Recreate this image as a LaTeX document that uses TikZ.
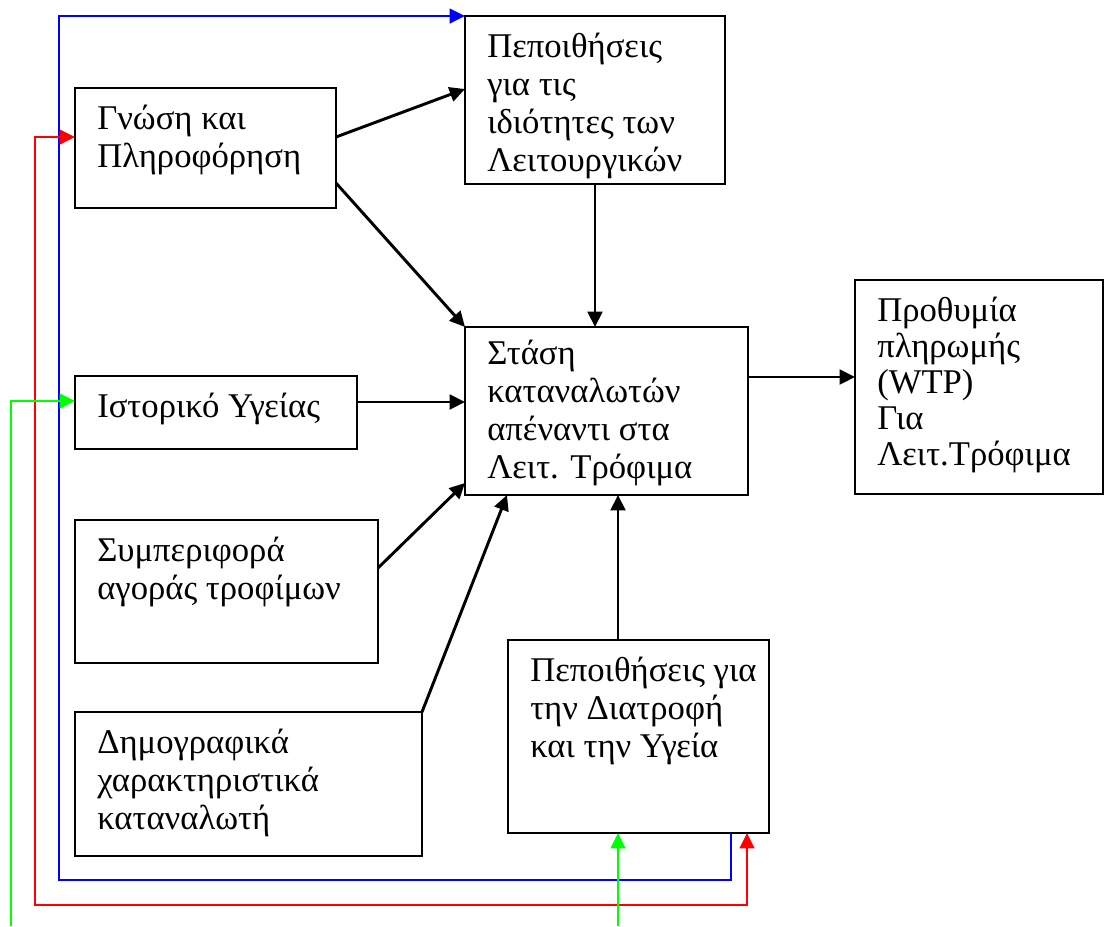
\documentclass[tikz,border=0pt]{standalone}
\usepackage{fontspec}
\setmainfont{Liberation Serif}
\usetikzlibrary{arrows.meta}
\definecolor{gline}{RGB}{0,255,0}
\definecolor{bline}{RGB}{0,0,255}
\definecolor{rline}{RGB}{255,0,0}
\begin{document}
\begin{tikzpicture}[x=0.75pt,y=-0.75pt,
  box/.style={draw=black, line width=1.7pt, rectangle, inner sep=0pt, outer sep=0pt, anchor=north west},
  txt/.style={anchor=north west, inner sep=0pt, align=left, xshift=16.5pt, yshift=-12.5pt,
    font=\fontsize{26}{28.5}\selectfont},
  conn/.style={line width=2.2pt, -{Triangle[length=11.5pt,width=11pt]}},
  col/.style={line width=1.8pt, -{Triangle[length=11.5pt,width=11pt]}},
]
\useasboundingbox (0,0) rectangle (1104,926);

\node[box, minimum width={261*0.75pt}, minimum height={120*0.75pt},
  label={[txt]north west:{Γνώση και\\Πληροφόρηση}}] (gn) at (75,88) {};
\node[box, minimum width={260*0.75pt}, minimum height={168*0.75pt},
  label={[txt]north west:{Πεποιθήσεις\\για τις\\ιδιότητες των\\Λειτουργικών}}] (pt) at (465,16) {};
\node[box, minimum width={283*0.75pt}, minimum height={168*0.75pt},
  label={[txt, yshift=3pt]north west:{Στάση\\καταναλωτών\\απέναντι στα\\Λειτ. Τρόφιμα}}] (st) at (465,327) {};
\node[box, minimum width={248*0.75pt}, minimum height={214*0.75pt},
  label={[txt, font=\fontsize{26}{27}\selectfont]north west:{Προθυμία\\πληρωμής\\(WTP)\\Για\\Λειτ.Τρόφιμα}}] (wtp) at (855,280) {};
\node[box, minimum width={282*0.75pt}, minimum height={73*0.75pt},
  label={[txt]north west:{Ιστορικό Υγείας}}] (ist) at (75,376) {};
\node[box, minimum width={303*0.75pt}, minimum height={143*0.75pt},
  label={[txt]north west:{Συμπεριφορά\\αγοράς τροφίμων}}] (sym) at (75,520) {};
\node[box, minimum width={347*0.75pt}, minimum height={144*0.75pt},
  label={[txt]north west:{Δημογραφικά\\χαρακτηριστικά\\καταναλωτή}}] (dem) at (75,712) {};
\node[box, minimum width={261*0.75pt}, minimum height={193*0.75pt},
  label={[txt]north west:{Πεποιθήσεις για\\την Διατροφή\\και την Υγεία}}] (dt) at (508,640) {};

% black connectors
\draw[conn] (gn.east |- 0,137) -- (pt.west |- 0,89);
\draw[conn] (gn.east |- 0,183) -- (st.north west);
\draw[conn] (ist.east |- 0,402) -- (st.west |- 0,402);
\draw[conn] (sym.east |- 0,568) -- (st.west |- 0,483);
\draw[conn] (dem.north east) -- (st.south -| 507,0);
\draw[conn] (pt.south) -- (st.north -| pt.south);
\draw[conn] (dt.north -| 618,0) -- (st.south -| 618,0);
\draw[conn] (st.east |- 0,377) -- (wtp.west |- 0,377);

% coloured feedback lines
\draw[col, bline] (dt.south -| 731,0) -- (731,880) -- (59,880) -- (59,16) -- (pt.north west);
\draw[col, rline, {Triangle[length=11.5pt,width=11pt]}-{Triangle[length=11.5pt,width=11pt]}]
  (gn.west |- 0,137) -- (35,137) -- (35,905) -- (747,905) -- (dt.south -| 747,0);
\coordinate (g1) at (11,926);
\coordinate (g2) at (618,926);
\draw[col, gline] (g1) |- (ist.west |- 0,401);
\draw[col, gline] (g2) -- (dt.south -| g2);
\end{tikzpicture}
\end{document}
